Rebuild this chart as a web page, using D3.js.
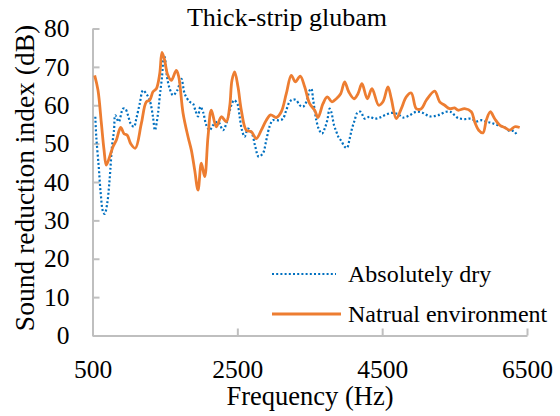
<!DOCTYPE html>
<html>
<head>
<meta charset="utf-8">
<script src="https://cdn.jsdelivr.net/npm/d3@7"></script>
<style>
  body { margin: 0; background: #fff; }
  text { font-family: "Liberation Serif", "Times New Roman", serif; fill: #000; }
</style>
</head>
<body>
<div id="chart"></div>
<script>
// Data (frequency in Hz, sound reduction index in dB)
var dryFreq = [539, 552, 586, 613, 645, 668, 704, 728, 746, 769, 797, 815, 862, 921, 953, 990, 1027, 1073, 1105, 1152,
  1197, 1243, 1290, 1335, 1362, 1404, 1428, 1460, 1487, 1505, 1529, 1566, 1612, 1671, 1727, 1773, 1842, 1888, 1920, 1957,
  1989, 2026, 2072, 2118, 2164, 2233, 2302, 2348, 2417, 2454, 2500, 2532, 2564, 2601, 2647, 2702, 2748, 2795, 2854, 2900,
  2946, 2992, 3084, 3130, 3176, 3222, 3268, 3314, 3361, 3407, 3453, 3499, 3522, 3545, 3568, 3591, 3623, 3669, 3706, 3742,
  3775, 3797, 3835, 3867, 3900, 3936, 3982, 4014, 4051, 4083, 4120, 4156, 4203, 4258, 4327, 4396, 4466, 4535, 4626, 4718,
  4787, 4880, 4971, 5063, 5156, 5271, 5385, 5455, 5500, 5547, 5639, 5731, 5800, 5869, 5938, 6007, 6099, 6192, 6261, 6320, 6352];
var dryValues = [57, 51.8, 44, 37.1, 32.3, 31.7, 34.5, 38.8, 43.1, 49.2, 53.5, 57.4, 55.7, 59.1, 59.1, 57.4, 55.2, 54.4, 56.5, 60.4,
  63.9, 63, 61.3, 57, 53.5, 57.8, 62.2, 67.4, 73, 71.7, 67.4, 64.3, 62.6, 63.9, 66.9, 63, 60.9, 60.4, 58.7, 57.1,
  59.6, 58.3, 54.8, 53.5, 54.8, 55.7, 53.5, 55.2, 60, 61.3, 60.4, 57, 53.5, 51.8, 53.9, 52.6, 49.2, 46.6, 47.5, 50.9,
  54.5, 56.1, 56.1, 56.5, 58.7, 60.9, 61.5, 61.3, 60, 59.6, 60.9, 63.9, 64.3, 61.7, 58.7, 56.1, 53.9, 52.6, 53.9, 56.1,
  59.1, 58.3, 54.8, 53.1, 51.6, 50.7, 49.2, 48.9, 51.3, 53.9, 56.1, 58, 58.3, 56.5, 57, 56.5, 56.8, 57.4, 58, 57.7,
  56.8, 57.4, 58.3, 58, 57.1, 57.4, 58.3, 58.2, 57.4, 56.7, 56.4, 56.5, 55.8, 56.1, 55.7, 55.4, 54.8, 54.2, 53.3, 53.3, 52.5];

var natFreq = [530, 576, 622, 659, 690, 737, 783, 829, 889, 935, 980, 1027, 1091, 1174, 1243, 1290, 1335, 1381, 1428, 1460,
  1497, 1533, 1588, 1657, 1690, 1750, 1819, 1865, 1911, 1957, 2003, 2049, 2095, 2141, 2210, 2279, 2348, 2394, 2426, 2463,
  2509, 2555, 2624, 2693, 2762, 2831, 2900, 2960, 3038, 3107, 3176, 3245, 3300, 3369, 3430, 3499, 3568, 3614, 3683, 3742,
  3807, 3867, 3927, 3982, 4038, 4111, 4166, 4221, 4295, 4359, 4452, 4511, 4580, 4626, 4695, 4764, 4833, 4902, 4971, 5040,
  5109, 5225, 5294, 5363, 5432, 5500, 5547, 5639, 5731, 5777, 5833, 5892, 5938, 5993, 6054, 6123, 6192, 6261, 6330, 6399];
var natValues = [67.8, 63.9, 55.4, 48.4, 44.4, 46.6, 49.2, 50.9, 54.2, 52.6, 52.2, 50, 48.8, 55.2, 60.9, 61.3, 63.5, 64.3, 68.2, 73.8,
  71.7, 68.2, 66.5, 69.1, 67.5, 58, 51.8, 48.3, 43.1, 37.9, 44.9, 41.4, 51.8, 58.7, 54.4, 57, 55.7, 59.6, 66.5, 68.7,
  64.8, 58.7, 53.5, 53.1, 51.3, 53.5, 56.1, 57.5, 56.8, 58.3, 63, 67.8, 66.1, 67.6, 64.8, 60.4, 58.7, 56.8, 60.4, 62.2,
  60.9, 61.7, 63, 66.1, 63.5, 61.7, 63, 65.6, 61.7, 64.3, 60, 60.9, 64.8, 61.7, 56.5, 59.1, 62.2, 63.2, 59.1, 59.1,
  61.3, 63.7, 60.9, 60, 59.1, 59.3, 58.7, 59.1, 58.3, 55.7, 53.5, 52.8, 56.1, 58.3, 56.5, 54.8, 54.2, 53.5, 54.4, 54.2];

var xTicks = [500, 2500, 4500, 6500];
var yTicks = [0, 10, 20, 30, 40, 50, 60, 70, 80];
var seriesNames = ["Absolutely dry", "Natrual environment"];

var svgWidth = 560;
var svgHeight = 416;
var margin = { top: 28.5, right: 33, bottom: 80.5, left: 92.5 };
var chartWidth = svgWidth - margin.left - margin.right;
var chartHeight = svgHeight - margin.top - margin.bottom;

var svg = d3.select("#chart")
  .append("svg")
  .attr("width", svgWidth)
  .attr("height", svgHeight);

var chartGroup = svg.append("g")
  .attr("transform", `translate(${margin.left}, ${margin.top})`);

var xScale = d3.scaleLinear().domain([500, 6500]).range([0, chartWidth]);
var yScale = d3.scaleLinear().domain([0, 80]).range([chartHeight, 0]);

// axes, ticks pointing into the plot
var axisColor = "#bfbfbf";
var bottomAxis = d3.axisBottom(xScale).tickValues(xTicks).tickFormat(d3.format("d"))
  .tickSizeInner(-7).tickSizeOuter(0).tickPadding(24.5);
var leftAxis = d3.axisLeft(yScale).tickValues(yTicks).tickFormat(d3.format("d"))
  .tickSizeInner(-7).tickSizeOuter(0).tickPadding(23);

var xAxisG = chartGroup.append("g")
  .attr("transform", `translate(0, ${chartHeight})`)
  .call(bottomAxis);
var yAxisG = chartGroup.append("g").call(leftAxis);

[xAxisG, yAxisG].forEach(function(g) {
  g.select(".domain").attr("stroke", axisColor).attr("stroke-width", 2);
  g.selectAll(".tick line").attr("stroke", axisColor).attr("stroke-width", 2);
  g.selectAll(".tick text")
    .attr("font-family", "Liberation Serif, Times New Roman, serif")
    .attr("font-size", "25.5px")
    .attr("fill", "#000");
});

// lines
var dryData = dryFreq.map(function(f, i) { return { x: f, y: dryValues[i] }; });
var natData = natFreq.map(function(f, i) { return { x: f, y: natValues[i] }; });

var line = d3.line()
  .x(function(d) { return xScale(d.x); })
  .y(function(d) { return yScale(d.y); })
  .curve(d3.curveCatmullRom.alpha(0.5));

chartGroup.append("path")
  .datum(dryData)
  .attr("d", line)
  .attr("fill", "none")
  .attr("stroke", "#0070c0")
  .attr("stroke-width", 2.2)
  .attr("stroke-dasharray", "2,2.2");

chartGroup.append("path")
  .datum(natData)
  .attr("d", line)
  .attr("fill", "none")
  .attr("stroke", "#ed7d31")
  .attr("stroke-width", 2.8)
  .attr("stroke-linejoin", "round");

// title
svg.append("text")
  .attr("x", 287)
  .attr("y", 26)
  .attr("text-anchor", "middle")
  .attr("font-size", "26px")
  .text("Thick-strip glubam");

// axis titles
svg.append("text")
  .attr("x", 310)
  .attr("y", 405)
  .attr("text-anchor", "middle")
  .attr("font-size", "26.5px")
  .text("Frequency (Hz)");

svg.append("text")
  .attr("transform", "translate(34, 178) rotate(-90)")
  .attr("text-anchor", "middle")
  .attr("font-size", "27.5px")
  .text("Sound reduction index (dB)");

// legend
var legend = svg.append("g");
var legendRows = [
  { name: seriesNames[0], y: 274, stroke: "#0070c0", width: 2.2, dash: "2,2.2", x2: 336 },
  { name: seriesNames[1], y: 314, stroke: "#ed7d31", width: 2.8, dash: null, x2: 341 }
];
legendRows.forEach(function(r) {
  legend.append("line")
    .attr("x1", 272).attr("x2", r.x2)
    .attr("y1", r.y).attr("y2", r.y)
    .attr("stroke", r.stroke)
    .attr("stroke-width", r.width)
    .attr("stroke-dasharray", r.dash);
  legend.append("text")
    .attr("x", 348)
    .attr("y", r.y + 8)
    .attr("font-size", "24px")
    .text(r.name);
});
</script>
</body>
</html>
